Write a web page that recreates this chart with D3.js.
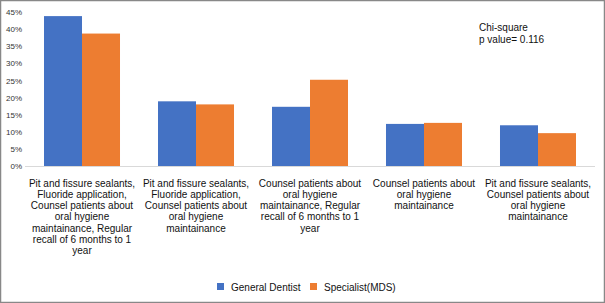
<!DOCTYPE html>
<html>
<head>
<meta charset="utf-8">
<script src="https://cdnjs.cloudflare.com/ajax/libs/d3/7.8.5/d3.min.js"></script>
<style>
  body { margin: 0; background: #fff; }
  svg { display: block; font-family: "Liberation Sans", Arial, Helvetica, sans-serif; }
</style>
</head>
<body>
<div id="chart"></div>
<script>
var width = 605, height = 303;
var margin = {top: 12, right: 10, bottom: 137, left: 25};

// categories (label lines as in the original)
var categories = [
  ["Pit and fissure sealants,", "Fluoride application,", "Counsel patients about", "oral hygiene", "maintainance, Regular", "recall of 6 months to 1", "year"],
  ["Pit and fissure sealants,", "Fluoride application,", "Counsel patients about", "oral hygiene", "maintainance"],
  ["Counsel patients about", "oral hygiene", "maintainance, Regular", "recall of 6 months to 1", "year"],
  ["Counsel patients about", "oral hygiene", "maintainance"],
  ["Pit and fissure sealants,", "Counsel patients about", "oral hygiene", "maintainance"]
];
var seriesNames = ["General Dentist", "Specialist(MDS)"];
var generalDentist = [43.8, 18.9, 17.3, 12.3, 11.9];
var specialist = [38.7, 18.0, 25.2, 12.6, 9.6];
var yTicks = [0, 5, 10, 15, 20, 25, 30, 35, 40, 45];
var colors = ["#4472C4", "#ED7D31"];

var svg = d3.select("#chart")
  .append("svg")
  .attr("width", width)
  .attr("height", height);

// outer frame
svg.append("rect")
  .attr("x", 0.5).attr("y", 0.5)
  .attr("width", width - 1).attr("height", height - 1)
  .attr("fill", "none")
  .attr("stroke", "#888")
  .attr("stroke-width", 1.5);

var xScale = d3.scaleBand()
  .domain(d3.range(categories.length))
  .range([margin.left, width - margin.right])
  .paddingInner(0.3333)
  .paddingOuter(0.1667);

var xSub = d3.scaleBand()
  .domain([0, 1])
  .range([0, xScale.bandwidth()]);

var yScale = d3.scaleLinear()
  .domain([0, 45])
  .range([height - margin.bottom, margin.top]);

// Y axis labels
var yAxis = d3.axisLeft(yScale)
  .tickValues(yTicks)
  .tickSize(0)
  .tickPadding(3)
  .tickFormat(d => d + "%");

svg.append("g")
  .attr("transform", `translate(${margin.left},0)`)
  .call(yAxis)
  .call(g => g.select(".domain").remove())
  .selectAll("text")
  .style("font-size", "8px")
  .attr("fill", "#333");

// baseline
svg.append("line")
  .attr("x1", margin.left)
  .attr("x2", width - margin.right)
  .attr("y1", yScale(0) + 0.5)
  .attr("y2", yScale(0) + 0.5)
  .attr("stroke", "#d9d9d9")
  .attr("stroke-width", 1);

// bars
var groups = svg.append("g").attr("class", "bars")
  .selectAll("g")
  .data(categories.map((c, i) => [generalDentist[i], specialist[i]]))
  .enter()
  .append("g")
  .attr("transform", (d, i) => `translate(${xScale(i)},0)`);

groups.selectAll("rect")
  .data(d => d)
  .enter()
  .append("rect")
  .attr("x", (d, j) => xSub(j))
  .attr("y", d => yScale(d))
  .attr("width", xSub.bandwidth())
  .attr("height", d => yScale(0) - yScale(d))
  .attr("fill", (d, j) => colors[j]);

// category labels
var labels = svg.append("g").attr("class", "x-labels");
categories.forEach(function(lines, i) {
  var t = labels.append("text")
    .attr("x", xScale(i) + xScale.bandwidth() / 2)
    .attr("y", 183)
    .attr("text-anchor", "middle")
    .style("font-size", "10px")
    .attr("fill", "#111");
  lines.forEach(function(l, k) {
    t.append("tspan")
      .attr("x", xScale(i) + xScale.bandwidth() / 2)
      .attr("dy", k === 0 ? "0.35em" : 11.3)
      .text(l);
  });
});

// annotation
var note = svg.append("text")
  .attr("x", 479)
  .attr("y", 27)
  .style("font-size", "10px")
  .attr("fill", "#111");
note.append("tspan").attr("x", 479).attr("dy", "0.35em").text("Chi-square");
note.append("tspan").attr("x", 479).attr("dy", 12.5).text("p value= 0.116");

// legend
var legendX = [217, 310];
var legend = svg.append("g").attr("class", "legend");
seriesNames.forEach(function(name, i) {
  legend.append("rect")
    .attr("x", legendX[i])
    .attr("y", 283)
    .attr("width", 7)
    .attr("height", 7)
    .attr("fill", colors[i]);
  legend.append("text")
    .attr("x", legendX[i] + 14)
    .attr("y", 287)
    .attr("dy", "0.35em")
    .style("font-size", "10px")
    .attr("fill", "#111")
    .text(name);
});
</script>
</body>
</html>
